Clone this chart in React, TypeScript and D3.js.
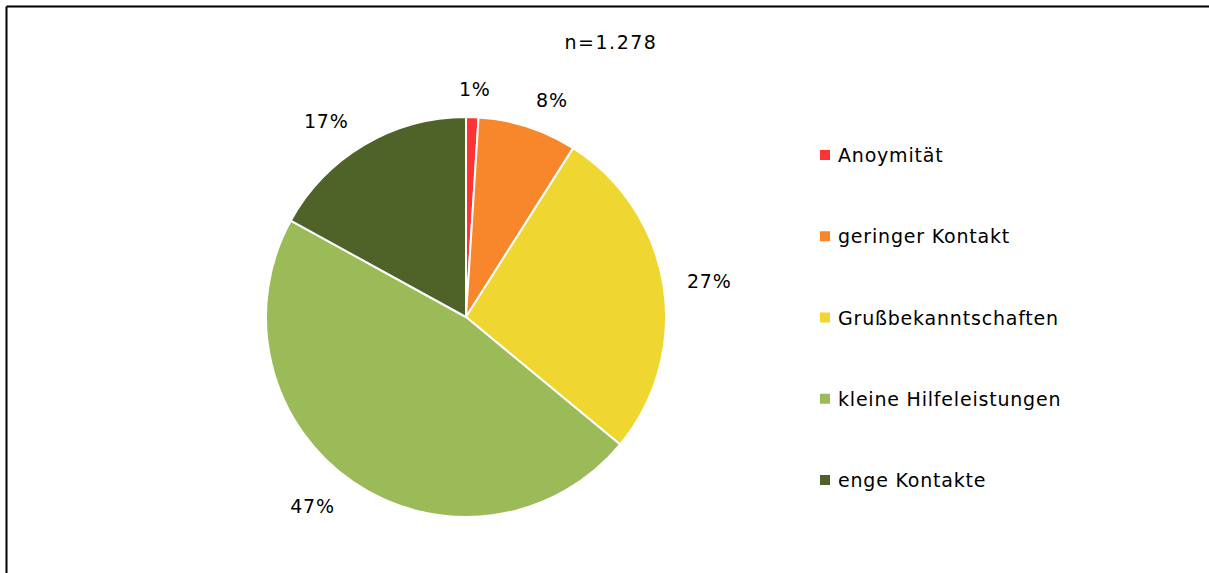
import React from "react";
import * as d3 from "d3";

const categories = ["Anoymität", "geringer Kontakt", "Grußbekanntschaften", "kleine Hilfeleistungen", "enge Kontakte"];
const values = [1, 8, 27, 47, 17];
const colors = ["#FF3333", "#F8862A", "#F0D630", "#9BBB59", "#4F6228"];
const subtitle = "n=1.278";

const W = 1209;
const H = 573;
const FONT = "'DejaVu Sans', sans-serif";
const FS = 19;
const LS = 0.8;

export default function App() {
  const cx = 466;
  const cy = 317;
  const R = 200;
  const pie = d3.pie<number>().sort(null).value((d) => d);
  const arcs = pie(values);
  const arcGen = d3.arc<d3.PieArcDatum<number>>().innerRadius(0).outerRadius(R);
  const total = d3.sum(values);

  const legendY = d3.scalePoint<string>().domain(categories).range([155, 480]);

  return (
    <svg width={W} height={H} style={{ position: "absolute", left: 0, top: 0, background: "#fff" }}>
      <rect x={0} y={0} width={W} height={H} fill="#fff" />
      <line x1={6.5} y1={6.5} x2={W} y2={6.5} stroke="#000" strokeWidth={2} />
      <line x1={6.5} y1={6.5} x2={6.5} y2={H} stroke="#000" strokeWidth={2} />
      <text x={611} y={42} textAnchor="middle" dominantBaseline="central" fontFamily={FONT} fontSize={FS} letterSpacing={1.5} fill="#000">
        {subtitle}
      </text>
      <g transform={`translate(${cx},${cy})`}>
        {arcs.map((a, i) => (
          <path key={i} d={arcGen(a) || ""} fill={colors[i]} stroke="#fff" strokeWidth={2} strokeLinejoin="round" />
        ))}
        {arcs.map((a, i) => {
          const th = (a.startAngle + a.endAngle) / 2;
          const s = Math.sin(th);
          const c = Math.cos(th);
          const x = s * (R + 40) + 40 * s * Math.abs(c);
          const y = -c * (R + 28);
          return (
            <text key={"l" + i} x={x} y={y} textAnchor="middle" dominantBaseline="central" fontFamily={FONT} fontSize={FS} letterSpacing={LS} fill="#000">
              {`${Math.round((values[i] / total) * 100)}%`}
            </text>
          );
        })}
      </g>
      {categories.map((cat, i) => (
        <g key={cat} transform={`translate(820,${legendY(cat)})`}>
          <rect x={0} y={-5} width={10} height={10} fill={colors[i]} />
          <text x={18} y={0} dominantBaseline="central" fontFamily={FONT} fontSize={FS} letterSpacing={LS} fill="#000">
            {cat}
          </text>
        </g>
      ))}
    </svg>
  );
}
